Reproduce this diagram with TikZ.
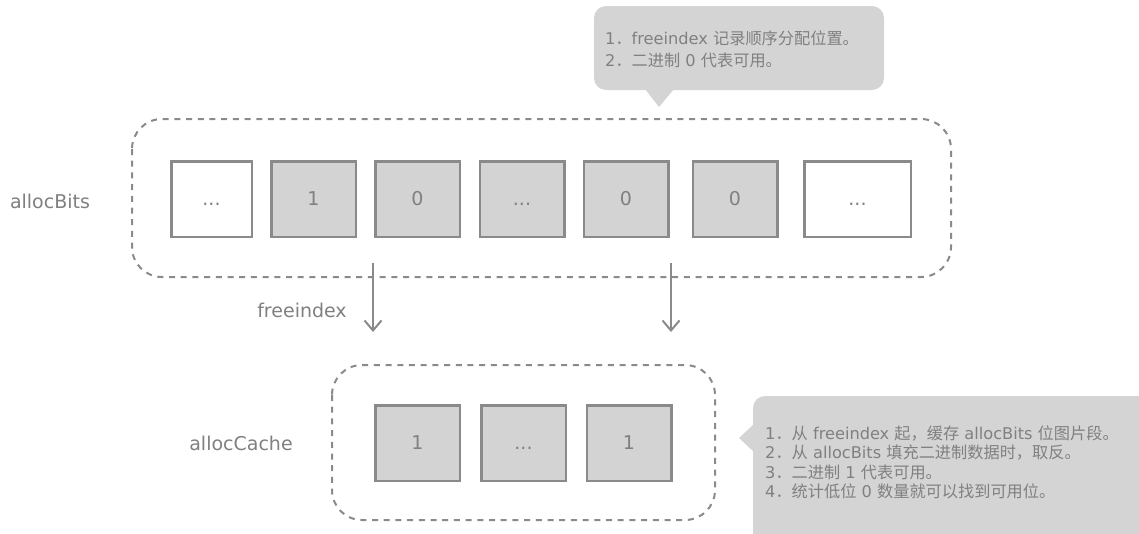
\documentclass[tikz,border=0pt]{standalone}
\usepackage{fontspec}
\setmainfont{DejaVu Sans}
\newfontfamily\cjk{Noto Sans CJK SC}
\usetikzlibrary{arrows.meta}
\definecolor{bitline}{HTML}{8A8A8A}
\definecolor{bitfill}{HTML}{D3D3D3}
\definecolor{bittext}{HTML}{808080}
\definecolor{tipfill}{HTML}{D4D4D4}

\begin{document}
\begin{tikzpicture}[x=1pt, y=-1pt, every node/.style={text=bittext, font=\fontsize{19}{23}\selectfont},
	cell/.style={draw=bitline, line width=2.5pt, fill=bitfill, minimum height=75.5pt, minimum width=84.5pt, inner sep=0pt, text height=13.8pt, text depth=0pt},
	blankcell/.style={cell, fill=white},
	frame/.style={draw=bitline, line width=2pt, dash pattern=on 6pt off 5.7pt, rounded corners=30pt},
	note/.style={align=left, anchor=north west, inner sep=0pt},
	fetch/.style={draw=bitline, line width=2pt, -{Straight Barb[length=10pt,width=17pt]}}]
		
		\useasboundingbox (0,0) rectangle (1139,533);
		
		% allocBits
		\draw[frame] (132,119) rectangle (951,277);
		\node (bitslabel) at (50,201) {allocBits};
		
		\node[blankcell, minimum width=80.5pt] (bit1) at (211.5,199) {...};
		\node[cell] (bit2) at (313.5,199) {1};
		\node[cell] (bit3) at (417.5,199) {0};
		\node[cell] (bit4) at (522,199) {...};
		\node[cell] (bit5) at (626,199) {0};
		\node[cell] (bit6) at (735,199) {0};
		\node[blankcell, minimum width=106.5pt] (bit7) at (857.5,199) {...};
		
		% allocCache
		\draw[frame] (332,365) rectangle (715,520);
		\node (cachelabel) at (241,443) {allocCache};
		
		\node[cell] (cache1) at (417.5,443) {1};
		\node[cell] (cache2) at (523.5,443) {...};
		\node[cell] (cache3) at (629,443) {1};
		
		% freeindex
		\coordinate (fromleft) at (373,263);
		\coordinate (toleft) at (373,332);
		\coordinate (fromright) at (671,263);
		\coordinate (toright) at (671,332);
		\draw[fetch] (fromleft) -- (toleft);
		\draw[fetch] (fromright) -- (toright);
		\node (freelabel) at (302,310) {freeindex};
		
		% notes
		\fill[tipfill, rounded corners=12pt] (594,6) rectangle (884,90);
		\fill[tipfill] (645,89) -- (674,89) -- (659,107) -- cycle;
		\node[note, font=\fontsize{16.2}{22}\selectfont] (bitsnote) at (605,30.5)
		{1{\cjk ．}freeindex {\cjk 记录顺序分配位置。}\\
		 2{\cjk ．二进制} 0 {\cjk 代表可用。}};
		
		\fill[tipfill, rounded corners=12pt] (753,396) rectangle (1160,560);
		\fill[tipfill] (754,424) -- (739,438) -- (754,452) -- cycle;
		\node[note, font=\fontsize{16.2}{19.3}\selectfont] (cachenote) at (765,425.5)
		{1{\cjk ．从} freeindex {\cjk 起，缓存} allocBits {\cjk 位图片段。}\\
		 2{\cjk ．从} allocBits {\cjk 填充二进制数据时，取反。}\\
		 3{\cjk ．二进制} 1 {\cjk 代表可用。}\\
		 4{\cjk ．统计低位} 0 {\cjk 数量就可以找到可用位。}};
		
\end{tikzpicture}
\end{document}
